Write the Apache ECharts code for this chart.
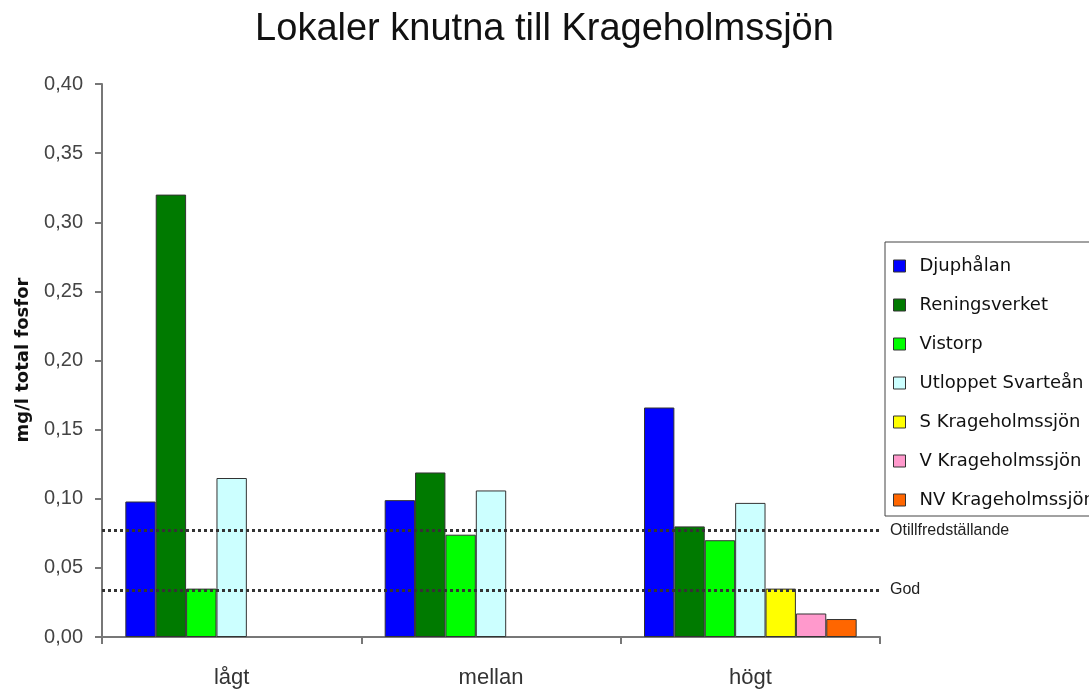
<!DOCTYPE html>
<html>
<head>
<meta charset="utf-8">
<script src="https://cdn.jsdelivr.net/npm/echarts@6/dist/echarts.min.js"></script>
<style>html,body{margin:0;padding:0;background:#fff;}#c{width:1089px;height:690px;}</style>
</head>
<body>
<div id="c"></div>
<script>
const categories = ['lågt', 'mellan', 'högt'];
const seriesNames = ['Djuphålan', 'Reningsverket', 'Vistorp', 'Utloppet Svarteån', 'S Krageholmssjön', 'V Krageholmssjön', 'NV Krageholmssjön'];
const seriesColors = ['#0000FF', '#007A00', '#00FF00', '#CCFFFF', '#FFFF00', '#FF99CC', '#FF6600'];
const djuphalan = [0.098, 0.099, 0.166];
const reningsverket = [0.320, 0.119, 0.080];
const vistorp = [0.035, 0.074, 0.070];
const utloppet = [0.115, 0.106, 0.097];
const sKrag = [null, null, 0.035];
const vKrag = [null, null, 0.017];
const nvKrag = [null, null, 0.013];
const thresholdNames = ['Otillfredställande', 'God'];
const thresholdValues = [0.077, 0.034];
const yTicks = [0, 0.05, 0.10, 0.15, 0.20, 0.25, 0.30, 0.35, 0.40];

const allValues = [djuphalan, reningsverket, vistorp, utloppet, sKrag, vKrag, nvKrag];

const chart = echarts.init(document.getElementById('c'), null, {renderer: 'canvas'});
const series = seriesNames.map((name, i) => ({
  name: name,
  type: 'bar',
  data: allValues[i].map(v => v === null ? '-' : v),
  barGap: '0%',
  barCategoryGap: '18%',
  itemStyle: {color: seriesColors[i], borderColor: '#333', borderWidth: 1},
  emphasis: {disabled: true}
}));
series[0].markLine = {
  silent: true,
  symbol: 'none',
  precision: 4,
  lineStyle: {type: [3, 3], width: 3, color: '#333'},
  label: {
    show: true, position: 'end', distance: 10,
    fontFamily: 'Liberation Sans', fontSize: 16, color: '#222',
    formatter: p => p.name
  },
  data: thresholdValues.map((v, i) => ({name: thresholdNames[i], yAxis: v}))
};

chart.setOption({
  animation: false,
  backgroundColor: '#fff',
  title: {
    text: 'Lokaler knutna till Krageholmssjön',
    left: 'center', top: 6,
    textStyle: {fontFamily: 'Liberation Sans', fontSize: 38, fontWeight: 'normal', color: '#111'}
  },
  legend: {
    orient: 'vertical',
    left: 885, top: 242,
    data: seriesNames,
    icon: 'rect',
    itemWidth: 12, itemHeight: 12,
    itemGap: 19,
    padding: [14, 0, 6, 8],
    borderColor: '#444', borderWidth: 1,
    backgroundColor: '#fff',
    itemStyle: {borderColor: '#333', borderWidth: 1},
    textStyle: {fontFamily: 'DejaVu Sans', fontSize: 18, color: '#111', lineHeight: 20, width: 200, padding: [0, 0, 0, 9]}
  },
  grid: {left: 102, right: 209, top: 84, bottom: 53, containLabel: false},
  xAxis: {
    type: 'category',
    data: categories,
    axisLine: {lineStyle: {color: '#777', width: 2}},
    axisTick: {show: true, length: 7, lineStyle: {color: '#777', width: 2}},
    axisLabel: {fontFamily: 'Liberation Sans', fontSize: 22, color: '#333', margin: 30}
  },
  yAxis: {
    type: 'value',
    min: 0, max: 0.4, interval: 0.05,
    axisLine: {show: true, lineStyle: {color: '#777', width: 2}},
    axisTick: {show: true, length: 7, lineStyle: {color: '#777', width: 2}},
    splitLine: {show: false},
    axisLabel: {
      fontFamily: 'Liberation Sans', fontSize: 20, color: '#444', margin: 19,
      formatter: v => v.toFixed(2).replace('.', ',')
    }
  },
  graphic: [{
    type: 'text',
    x: 23, y: 360,
    rotation: Math.PI / 2,
    style: {
      text: 'mg/l total fosfor',
      font: 'bold 18px "DejaVu Sans"',
      fill: '#111',
      align: 'center',
      verticalAlign: 'middle'
    }
  }],
  series: series
});
</script>
</body>
</html>
